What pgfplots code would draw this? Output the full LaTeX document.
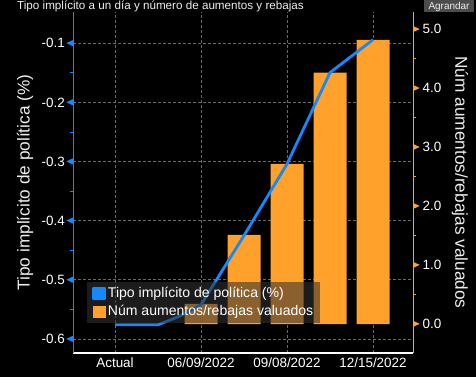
\documentclass[border=0pt]{standalone}
\usepackage{pgfplots}
\pgfplotsset{compat=1.18}
\usepackage{fontspec}
\setmainfont{Liberation Sans}
\definecolor{lblue}{RGB}{20,136,255}
\definecolor{lorange}{RGB}{255,161,42}
\definecolor{gridc}{RGB}{105,105,105}
\definecolor{txt}{RGB}{238,238,238}
\definecolor{legbg}{RGB}{50,50,50}
\newcommand{\ltri}{\tikz[baseline={(0,-4.8bp)}]\fill[lblue] (0,0) -- (6.5bp,3bp) -- (6.5bp,-3bp) -- cycle;}
\newcommand{\rtri}{\tikz[baseline={(0,-4.8bp)}]\fill[lorange] (0,3bp) -- (6.5bp,0) -- (0,-3bp) -- cycle;}
\begin{document}
\begin{tikzpicture}
\fill[black] (0,0) rectangle (476bp,377bp);
% title and button
\node[anchor=base west, inner sep=0pt, text=txt, font=\fontsize{11.7}{14}\selectfont] at (17bp,367.5bp) {Tipo implícito a un día y número de aumentos y rebajas};
\fill[black!70!white] (424bp,364.5bp) rectangle (474bp,377bp);
\node[inner sep=0pt, text=txt, font=\fontsize{10}{12}\selectfont] at (449bp,370.5bp) {Agrandar};
% background axis: left scale, grids, left & bottom axis
\begin{axis}[
  at={(73bp,24bp)}, anchor=south west, scale only axis,
  width=340bp, height=341bp,
  xmin=-0.977, xmax=6.93, ymin=-0.6236, ymax=-0.0471,
  axis x line*=bottom, axis y line*=left,
  x axis line style={white, line width=1.2bp},
  y axis line style={lblue, line width=1bp},
  xtick={0,2,4,6},
  xticklabels={Actual,06/09/2022,09/08/2022,12/15/2022},
  ytick={-0.6,-0.5,-0.4,-0.3,-0.2,-0.1},
  minor y tick num=1,
  tick align=outside,
  major tick length=0bp, minor tick length=3.3bp,
  every minor tick/.style={lblue, line width=0.8bp},
  xmajorgrids, ymajorgrids,
  major grid style={gridc, dash pattern=on 2.5bp off 2.5bp, line width=0.8bp},
  /pgf/number format/.cd, fixed, fixed zerofill, precision=1, assume math mode=true,
  /pgfplots/.cd,
  yticklabel={\pgfmathprintnumber{\tick}\hspace{1.5bp}\ltri},
  yticklabel style={inner sep=0pt, text=white, font=\fontsize{13.5}{16}\selectfont},
  xticklabel style={inner sep=0pt, text=white, yshift=-4.5bp, text height=10bp, text depth=3bp, font=\fontsize{13.5}{16}\selectfont},
  ylabel={Tipo implícito de política (\%)},
  ylabel style={at={(axis description cs:-0.141,0.5)}, anchor=center, text=txt, font=\fontsize{17.3}{20}\selectfont},
]
\end{axis}
% bars: right scale
\begin{axis}[
  at={(73bp,24bp)}, anchor=south west, scale only axis,
  width=340bp, height=341bp,
  xmin=-0.977, xmax=6.93, ymin=-0.4915, ymax=5.293,
  axis y line*=right, axis x line=none,
  y axis line style={lorange, line width=1bp},
  ytick={0,1,2,3,4,5},
  minor y tick num=1,
  tick align=outside,
  major tick length=0bp, minor tick length=3.3bp,
  every minor tick/.style={lorange, line width=0.8bp},
  /pgf/number format/.cd, fixed, fixed zerofill, precision=1, assume math mode=true,
  /pgfplots/.cd,
  yticklabel={\rtri\hspace{3bp}\pgfmathprintnumber{\tick}},
  yticklabel style={inner sep=0pt, anchor=west, text=white, font=\fontsize{13.5}{16}\selectfont},
  ylabel={Núm aumentos/rebajas valuados},
  ylabel style={at={(axis description cs:1.138,0.5)}, anchor=center, rotate=180, text=txt, font=\fontsize{17.3}{20}\selectfont},
]
\addplot[ybar, bar width=33bp, fill=lorange, draw=none] coordinates {
  (2,0.34) (3,1.513) (4,2.717) (5,4.265) (6,4.819)
};
\end{axis}
% line: left scale, legend
\begin{axis}[
  at={(73bp,24bp)}, anchor=south west, scale only axis,
  width=340bp, height=341bp,
  xmin=-0.977, xmax=6.93, ymin=-0.6236, ymax=-0.0471,
  hide axis,
  legend cell align=left,
  legend style={at={(axis description cs:0.041,0.088)}, anchor=south west,
    draw=none, fill=legbg, fill opacity=0.57, text opacity=1, text=white,
    font=\fontsize{14.1}{15}\selectfont, inner xsep=5bp, inner ysep=4bp,
    row sep=3bp, nodes={inner sep=1.5bp}},
]
\addplot[lblue, line width=2.8bp, line join=round,
  legend image code/.code={\fill[lblue, fill opacity=1] (0bp,-5.5bp) rectangle (11.5bp,5.5bp);}] coordinates {
  (0,-0.576) (1,-0.576) (1.5,-0.5615) (2,-0.542) (3,-0.425) (4,-0.304) (5,-0.1495) (6,-0.094)
};
\addlegendentry{Tipo implícito de política (\%)}
\addlegendimage{legend image code/.code={\fill[lorange, fill opacity=1] (0bp,-5.5bp) rectangle (11.5bp,5.5bp);}}
\addlegendentry{Núm aumentos/rebajas valuados}
\end{axis}
\pgfresetboundingbox
\path (0,0) rectangle (476bp,377bp);
\end{tikzpicture}
\end{document}
